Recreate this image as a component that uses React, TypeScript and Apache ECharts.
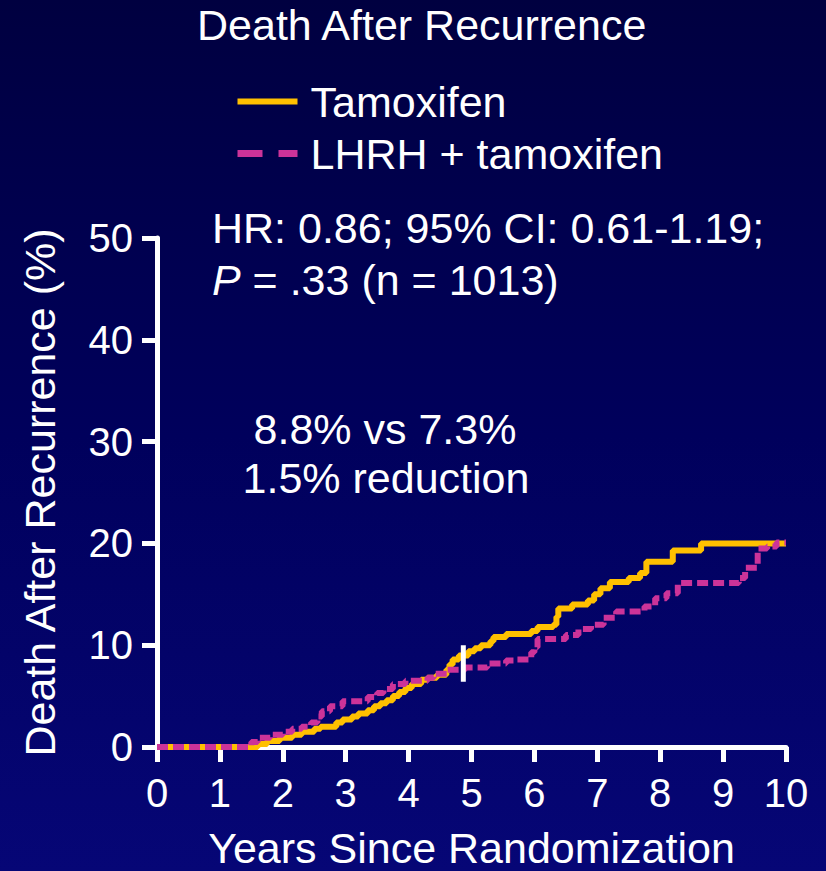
import React, { useEffect, useRef } from 'react';
import * as echarts from 'echarts';

const FONT = '"Liberation Sans", Arial, Helvetica, sans-serif';
const BIG = 43;

const chartTitle = 'Death After Recurrence';
const xAxisTitle = 'Years Since Randomization';
const yAxisTitle = 'Death After Recurrence (%)';
const seriesNames = ['Tamoxifen', 'LHRH + tamoxifen'];
const statsLine1 = 'HR: 0.86; 95% CI: 0.61-1.19;';
const statsLine2 = ' = .33 (n = 1013)';
const noteLine1 = '8.8% vs 7.3%';
const noteLine2 = '1.5% reduction';

// Kaplan-Meier style cumulative incidence (value holds from time onward)
const tamoxifenT = [0, 1.6, 1.75, 1.95, 2.15, 2.3, 2.5, 2.6, 2.85, 2.95, 3.1, 3.2, 3.35, 3.45, 3.55, 3.65, 3.75, 3.85, 3.95, 4.05, 4.2, 4.3, 4.45, 4.6, 4.65, 4.7, 4.8, 4.95, 5.05, 5.15, 5.3, 5.35, 5.55, 5.95, 6.05, 6.3, 6.35, 6.38, 6.6, 6.85, 6.95, 7.05, 7.2, 7.5, 7.68, 7.78, 8.2, 8.65, 10];
const tamoxifenV = [0, 0.3, 0.6, 0.9, 1.2, 1.5, 1.8, 2.0, 2.4, 2.7, 3.0, 3.3, 3.6, 4.0, 4.3, 4.6, 5.0, 5.4, 5.8, 6.2, 6.6, 6.8, 7.1, 7.6, 8.1, 8.6, 9.0, 9.4, 9.7, 10.0, 10.4, 10.8, 11.1, 11.4, 11.8, 12.0, 12.8, 13.6, 14.0, 14.4, 15.0, 15.6, 16.2, 16.6, 17.1, 18.2, 19.3, 20.0, 20.0];

const lhrhT = [0, 1.5, 1.6, 1.8, 2.0, 2.15, 2.3, 2.45, 2.55, 2.62, 2.75, 2.95, 3.35, 3.5, 3.6, 3.75, 3.95, 4.3, 4.4, 4.62, 4.9, 5.25, 5.55, 5.7, 5.95, 6.0, 6.05, 6.5, 6.7, 6.9, 7.1, 7.3, 7.75, 7.92, 8.1, 8.28, 9.25, 9.35, 9.55, 9.7, 9.85, 10];
const lhrhV = [0, 0.5, 0.9, 1.2, 1.5, 1.8, 2.0, 2.4, 3.0, 3.5, 4.0, 4.5, 4.9, 5.3, 5.7, 6.2, 6.5, 6.8, 7.2, 7.6, 7.8, 8.2, 8.5, 8.6, 9.3, 9.8, 10.6, 11.0, 11.6, 12.0, 12.7, 13.3, 13.8, 14.6, 15.1, 16.1, 16.6, 17.6, 19.5, 19.7, 20.1, 20.1];

// median follow-up marker
const markerT = [4.87, 4.87];
const markerV = [6.4, 10.0];

const xMin = 0, xMax = 10, xStep = 1;
const yMin = 0, yMax = 50, yStep = 10;

const zip = (a: number[], b: number[]) => a.map((v, i) => [v, b[i]]);

export default function App() {
  const ref = useRef<HTMLDivElement>(null);

  useEffect(() => {
    document.body.style.margin = '0';
    if (!ref.current) return;
    const chart = echarts.init(ref.current, undefined, { renderer: 'svg' });
    const white = '#ffffff';
    const hiddenSymbol = { opacity: 0, color: 'rgba(0,0,0,0)', borderWidth: 0 };
    chart.setOption({
      animation: false,
      backgroundColor: {
        type: 'linear', x: 0, y: 0, x2: 0, y2: 1,
        colorStops: [
          { offset: 0, color: '#000040' },
          { offset: 0.5, color: '#00005c' },
          { offset: 1, color: '#060676' },
        ],
      },
      title: {
        text: chartTitle,
        left: 197,
        top: 3,
        padding: 0,
        textStyle: { color: white, fontSize: BIG, fontWeight: 'normal', fontFamily: FONT },
      },
      legend: {
        orient: 'vertical',
        left: 234,
        top: 80,
        padding: 0,
        itemWidth: 60,
        itemHeight: 7,
        itemGap: 9,
        selectedMode: false,
        itemStyle: hiddenSymbol,
        textStyle: { color: white, fontSize: BIG, fontFamily: FONT, padding: [0, 0, 0, 8] },
        data: [
          { name: seriesNames[0], itemStyle: hiddenSymbol, lineStyle: { width: 6, type: 'solid' } },
          { name: seriesNames[1], itemStyle: hiddenSymbol, lineStyle: { width: 7, type: [25, 16] } },
        ],
      },
      grid: { left: 157, right: 40, top: 238, bottom: 124, containLabel: false, outerBoundsMode: 'none' },
      xAxis: {
        type: 'value',
        min: xMin, max: xMax, interval: xStep,
        name: xAxisTitle,
        nameLocation: 'middle',
        nameGap: 79,
        nameTextStyle: { color: white, fontSize: BIG, fontFamily: FONT },
        axisLine: { show: true, lineStyle: { color: white, width: 5 } },
        axisTick: { show: true, inside: false, length: 15, lineStyle: { color: white, width: 5 } },
        axisLabel: { color: white, fontSize: 40, fontFamily: FONT, margin: 26 },
        splitLine: { show: false },
      },
      yAxis: {
        type: 'value',
        min: yMin, max: yMax, interval: yStep,
        name: yAxisTitle,
        nameLocation: 'middle',
        nameGap: 96,
        nameRotate: 90,
        nameTextStyle: { color: white, fontSize: BIG, fontFamily: FONT },
        axisLine: { show: true, lineStyle: { color: white, width: 5 } },
        axisTick: { show: true, inside: false, length: 15, lineStyle: { color: white, width: 5 } },
        axisLabel: { color: white, fontSize: 40, fontFamily: FONT, margin: 24 },
        splitLine: { show: false },
      },
      graphic: [
        {
          type: 'text', x: 212, y: 228,
          style: { text: statsLine1, fill: white, fontSize: BIG, fontFamily: FONT, textAlign: 'left', textVerticalAlign: 'middle' },
        },
        {
          type: 'text', x: 212, y: 280,
          style: {
            text: '{i|P}' + statsLine2,
            fill: white, fontSize: BIG, fontFamily: FONT, textAlign: 'left', textVerticalAlign: 'middle',
            rich: { i: { fontStyle: 'italic', fontSize: BIG, fontFamily: FONT, fill: white } },
          },
        },
        {
          type: 'text', x: 385, y: 429,
          style: { text: noteLine1, fill: white, fontSize: BIG, fontFamily: FONT, textAlign: 'center', textVerticalAlign: 'middle' },
        },
        {
          type: 'text', x: 386, y: 478,
          style: { text: noteLine2, fill: white, fontSize: BIG, fontFamily: FONT, textAlign: 'center', textVerticalAlign: 'middle' },
        },
      ],
      series: [
        {
          name: seriesNames[0],
          type: 'line',
          step: 'end',
          symbol: 'none',
          color: '#FFC000',
          lineStyle: { color: '#FFC000', width: 6 },
          data: zip(tamoxifenT, tamoxifenV),
          z: 3,
        },
        {
          name: seriesNames[1],
          type: 'line',
          step: 'end',
          symbol: 'none',
          color: '#CC3399',
          lineStyle: { color: '#CC3399', width: 6, type: [11, 5], cap: 'butt' },
          data: zip(lhrhT, lhrhV),
          z: 4,
        },
        {
          name: 'censor',
          type: 'line',
          symbol: 'none',
          color: white,
          lineStyle: { color: white, width: 5 },
          data: zip(markerT, markerV),
          z: 5,
          silent: true,
        },
      ],
    });
    return () => chart.dispose();
  }, []);

  return (
    <div
      ref={ref}
      style={{ position: 'fixed', left: 0, top: 0, width: 826, height: 871 }}
    />
  );
}
